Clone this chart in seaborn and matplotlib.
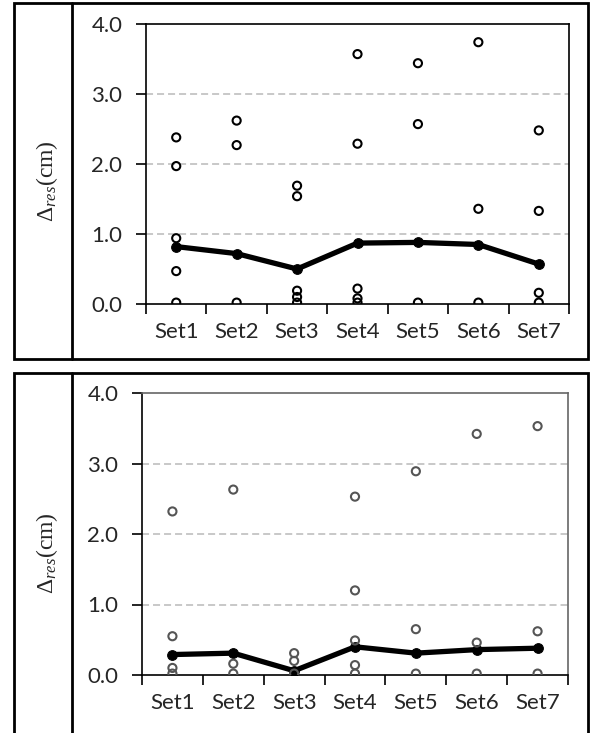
import numpy as np
import pandas as pd
import matplotlib.pyplot as plt
import seaborn as sns
from matplotlib.lines import Line2D
from matplotlib.patches import Rectangle

# Categories and values
sets = ['Set1', 'Set2', 'Set3', 'Set4', 'Set5', 'Set6', 'Set7']

top_points = [
    [2.38, 1.97, 0.94, 0.47, 0.02],
    [2.62, 2.27, 0.02],
    [1.69, 1.54, 0.19, 0.10, 0.02],
    [3.57, 2.29, 0.22, 0.08, 0.02],
    [3.44, 2.57, 0.02],
    [3.74, 1.36, 0.02],
    [2.48, 1.33, 0.16, 0.02],
]
top_mean = [0.82, 0.72, 0.50, 0.87, 0.88, 0.85, 0.57]

bottom_points = [
    [2.32, 0.55, 0.10, 0.02],
    [2.63, 0.16, 0.02],
    [0.31, 0.20, 0.02],
    [2.53, 1.20, 0.49, 0.14, 0.02],
    [2.89, 0.65, 0.02],
    [3.42, 0.46, 0.02],
    [3.53, 0.62, 0.02],
]
bottom_mean = [0.29, 0.31, 0.06, 0.40, 0.31, 0.36, 0.38]

y_ticks = [0, 1, 2, 3, 4]
y_label = r'$\mathit{Δ}_{\mathit{res}}$(cm)'

sns.set_theme(style='white')
plt.rcParams['font.family'] = ['Lato', 'DejaVu Sans']
plt.rcParams['mathtext.fontset'] = 'custom'
plt.rcParams['mathtext.rm'] = 'Liberation Serif'
plt.rcParams['mathtext.it'] = 'Liberation Serif:italic'

W, H = 591, 733


def px_box(left, top, right, bottom):
    # pixel box -> figure fraction rect
    return [left / W, 1 - bottom / H, (right - left) / W, (bottom - top) / H]


def long_form(points):
    rows = []
    for s, vals in zip(sets, points):
        for v in vals:
            rows.append((s, v))
    return pd.DataFrame(rows, columns=['set', 'value'])


def draw_panel(ax, points, mean, pt_color, spine_color):
    means = pd.DataFrame({'set': sets, 'value': mean})
    pts = long_form(points)
    sns.lineplot(data=means, x='set', y='value', ax=ax, color='black', lw=3.8,
                 marker='o', markersize=7, markeredgecolor='black', sort=False, zorder=3)
    sns.scatterplot(data=pts, x='set', y='value', ax=ax, s=34, facecolors='none',
                    edgecolor=pt_color, linewidth=1.5, zorder=4)

    ax.set_xlim(-0.5, 6.5)
    ax.set_ylim(0, 4)
    ax.set_yticks(y_ticks)
    ax.set_yticklabels([f'{v:.1f}' for v in y_ticks])
    ax.set_xticks(range(len(sets)))
    ax.set_xticklabels(sets)
    ax.set_xticks(np.arange(-0.5, len(sets), 1), minor=True)
    ax.tick_params(axis='x', which='major', length=0, pad=13, labelsize=16)
    ax.tick_params(axis='x', which='minor', bottom=True, length=7, width=1.2,
                   direction='out', color='black')
    ax.tick_params(axis='y', left=True, length=7, width=1.2, direction='out',
                   color='black', pad=10, labelsize=16)
    for y in y_ticks[1:-1]:
        ax.axhline(y, color='#c4c4c4', lw=1.3, ls=(0, (3.9, 2.2)), zorder=0)
    ax.set_xlabel('')
    ax.set_ylabel('')
    for side in ['left', 'bottom']:
        ax.spines[side].set_color('black')
        ax.spines[side].set_linewidth(1.2)
    for side in ['top', 'right']:
        ax.spines[side].set_color(spine_color)
        ax.spines[side].set_linewidth(1.2)


fig = plt.figure(figsize=(5.91, 7.33), dpi=100)

ax1 = fig.add_axes(px_box(146, 24, 569, 304))
draw_panel(ax1, top_points, top_mean, 'black', 'black')

ax2 = fig.add_axes(px_box(142, 393, 568, 675))
draw_panel(ax2, bottom_points, bottom_mean, '#555555', '#666666')

# table-like frames around each panel
for top, bottom in [(3, 359), (373, 740)]:
    fig.add_artist(Rectangle((13.6 / W, 1 - bottom / H), (588 - 13.6) / W, (bottom - top) / H,
                             transform=fig.transFigure, fill=False, lw=2, ec='black'))
    fig.add_artist(Line2D([72 / W, 72 / W], [1 - top / H, 1 - bottom / H],
                          transform=fig.transFigure, lw=2, color='black'))

fig.text(47 / W, 1 - 181 / H, y_label, rotation=90, ha='center', va='center',
         fontsize=17, family=['Liberation Serif'])
fig.text(47 / W, 1 - 553 / H, y_label, rotation=90, ha='center', va='center',
         fontsize=17, family=['Liberation Serif'])

fig.savefig('out.png', dpi=100)
